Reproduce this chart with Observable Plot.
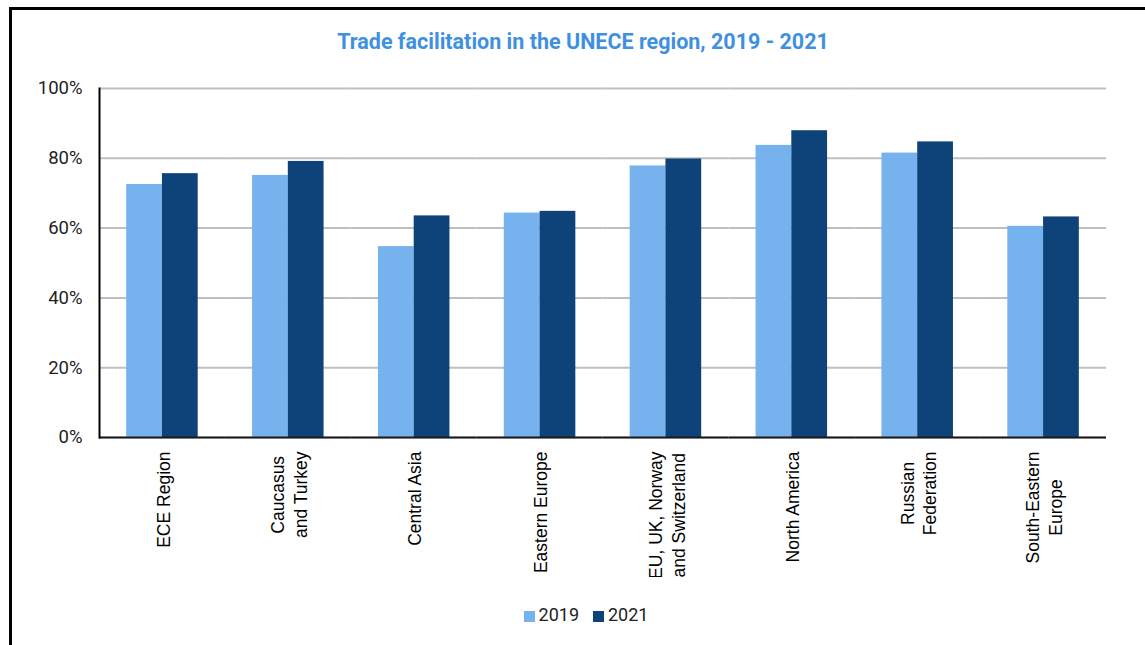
<!DOCTYPE html>
<html><head><meta charset="utf-8">
<script src="https://cdn.jsdelivr.net/npm/d3@7"></script>
<script src="https://cdn.jsdelivr.net/npm/@observablehq/plot@0.6"></script>
<style>
html,body{margin:0;padding:0;background:#fff;width:1145px;height:645px;overflow:hidden;}
#frame{position:absolute;left:9px;top:7px;width:1200px;height:700px;border:3px solid #000;box-sizing:border-box;}
#title{position:absolute;left:0;top:31px;width:1166px;text-align:center;font-family:Roboto,sans-serif;font-weight:bold;font-size:21.5px;line-height:22px;color:#3f90e0;}
#chart{position:absolute;left:0;top:70px;}
#legend{position:absolute;left:0;top:606px;width:1172px;display:flex;justify-content:center;align-items:center;font-family:Roboto,sans-serif;font-size:18px;line-height:18px;color:#222;}
#legend .item{display:flex;align-items:center;margin:0 7px;}
#legend .sw{width:11px;height:11px;margin-right:4px;margin-top:2px;}
</style>
</head>
<body>
<div id="frame"></div>
<div id="title">Trade facilitation in the UNECE region, 2019 - 2021</div>
<div id="chart"></div>
<div id="legend"></div>
<script>
const regions = ["ECE Region","Caucasus and Turkey","Central Asia","Eastern Europe","EU, UK, Norway and Switzerland","North America","Russian Federation","South-Eastern Europe"];
const tickLabels = ["ECE Region","Caucasus\nand Turkey","Central Asia","Eastern Europe","EU, UK, Norway\nand Switzerland","North America","Russian\nFederation","South-Eastern\nEurope"];
const years = ["2019","2021"];
const values2019 = [72.5, 75.1, 54.7, 64.3, 77.8, 83.7, 81.5, 60.5];
const values2021 = [75.6, 79.1, 63.5, 64.8, 79.8, 87.9, 84.7, 63.2];
const yTicks = [0, 20, 40, 60, 80, 100];
const colors = ["#75b2ee", "#0e4379"];

const data = [];
regions.forEach((r, i) => {
  data.push({region: r, year: years[0], value: values2019[i]});
  data.push({region: r, year: years[1], value: values2021[i]});
});

const chart = Plot.plot({
  width: 1140, height: 507,
  marginLeft: 99, marginRight: 34, marginTop: 18, marginBottom: 140,
  fx: {domain: regions, padding: 0, round: false, label: null},
  x: {domain: years, paddingInner: 0, paddingOuter: 0.76, round: false, axis: null},
  y: {domain: [0, 100]},
  color: {domain: years, range: colors},
  marks: [
    Plot.gridY(yTicks, {stroke: "#bfbfbf", strokeOpacity: 1, strokeWidth: 2}),
    Plot.barY(data, {fx: "region", x: "year", y: "value", fill: "year"}),
    Plot.ruleY([0], {stroke: "#1a1a1a", strokeWidth: 2}),
    Plot.frame({anchor: "left", facetAnchor: "left", stroke: "#000", strokeWidth: 2}),
    Plot.axisY(yTicks, {tickSize: 0, tickPadding: 17, tickFormat: d => d + "%", label: null, fontSize: 18.5, fontFamily: "Roboto", fill: "#222"}),
    Plot.axisFx({anchor: "bottom", tickSize: 0, tickPadding: 14, tickRotate: -90, tickFormat: d => tickLabels[regions.indexOf(d)], label: null, lineHeight: 1.3, lineAnchor: "middle", fontSize: 17.5, fontFamily: "Liberation Sans", fill: "#000"})
  ]
});
document.getElementById("chart").appendChild(chart);

// center-align the lines of multi-line category labels (anchored at their top)
chart.querySelectorAll('g[aria-label="fx-axis tick label"] text').forEach(t => {
  const spans = t.querySelectorAll("tspan");
  if (spans.length > 1) {
    let m = 0;
    spans.forEach(s => { m = Math.max(m, s.getComputedTextLength()); });
    t.setAttribute("text-anchor", "middle");
    spans.forEach(s => s.setAttribute("x", -m / 2));
  }
});

const legend = document.getElementById("legend");
years.forEach((y, i) => {
  const it = document.createElement("div");
  it.className = "item";
  const sw = document.createElement("div");
  sw.className = "sw";
  sw.style.background = colors[i];
  it.appendChild(sw);
  const tx = document.createElement("span");
  tx.textContent = y;
  it.appendChild(tx);
  legend.appendChild(it);
});
</script>
</body></html>
